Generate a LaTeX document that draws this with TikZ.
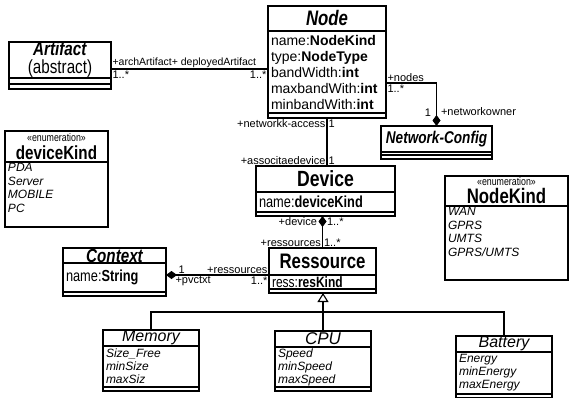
\documentclass[tikz,border=0pt]{standalone}
\usepackage{fontspec}
\setmainfont{Liberation Sans}[FakeStretch=0.8]
\newfontfamily\lblfont{Liberation Sans}
\usetikzlibrary{arrows.meta,positioning}

\begin{document}
\begin{tikzpicture}[
  x=1pt, y=-1pt, line width=1.1pt,
  cls/.style={draw, rectangle, inner sep=0pt, outer sep=0pt},
  ttl/.style={cls, anchor=north west, align=center},
  cmp/.style={cls, below=0pt of #1},
  attr/.style={align=left, inner xsep=3pt},
  lbl/.style={font=\lblfont\fontsize{11}{11}\selectfont, inner sep=1pt},
  comp/.style={-{Diamond[length=11pt,width=8pt]}},
  gen/.style={-{Triangle[length=9pt,width=11pt,fill=white]}}
]
\useasboundingbox (0,0) rectangle (569,398);

% Node
\node[ttl, minimum width=118pt, minimum height=25pt, font=\fontsize{21}{21}\selectfont\bfseries\itshape] (ntl) at (268,6) {Node};
\node[cmp=ntl, minimum width=118pt, minimum height=82pt, attr, text width=112pt, font=\lblfont\fontsize{14}{16}\selectfont] (nattr) {name:\textbf{NodeKind}\\ type:\textbf{NodeType}\\ bandWidth:\textbf{int}\\ maxbandWith:\textbf{int}\\ minbandWith:\textbf{int}};
\node[cmp=nattr, minimum width=118pt, minimum height=5pt] (nops) {};

% Artifact
\node[ttl, minimum width=102pt, minimum height=36pt, font=\fontsize{19}{18}\selectfont] (atl) at (9,42) {\textbf{\textit{Artifact}}\\(abstract)};
\node[cmp=atl, minimum width=102pt, minimum height=6pt] (aattr) {};
\node[cmp=aattr, minimum width=102pt, minimum height=5pt] (aops) {};

% deviceKind
\node[ttl, minimum width=103pt, minimum height=31pt, font=\fontsize{19}{18}\selectfont] (dktl) at (5,131) {{\fontsize{11}{11}\selectfont <<enumeration>>}\\ \textbf{deviceKind}};
\node[cmp=dktl, minimum width=103pt, inner xsep=3pt, inner ysep=1.5pt, font=\lblfont\fontsize{12}{13.5}\selectfont\itshape] (dkitems) {\parbox[t][62pt][t]{97pt}{PDA\\Server\\MOBILE\\PC}};

% Network-Config
\node[ttl, minimum width=111pt, minimum height=26pt, font=\fontsize{17}{17}\selectfont\bfseries\itshape] (nctl) at (381,126) {Network-Config};
\node[cmp=nctl, minimum width=111pt, minimum height=3pt] (ncattr) {};
\node[cmp=ncattr, minimum width=111pt, minimum height=4pt] (ncops) {};

% Device
\node[ttl, minimum width=139pt, minimum height=26pt, font=\fontsize{22}{22}\selectfont\bfseries] (dtl) at (256,166) {Device};
\node[cmp=dtl, minimum width=139pt, minimum height=20pt, attr, text width=133pt, font=\fontsize{16}{16}\selectfont] (dattr) {name:\textbf{deviceKind}};
\node[cmp=dattr, minimum width=139pt, minimum height=4pt] (dops) {};

% NodeKind
\node[ttl, minimum width=123pt, minimum height=30pt, font=\fontsize{21}{18}\selectfont] (nktl) at (445,176) {{\fontsize{11}{11}\selectfont <<enumeration>>}\\ \textbf{NodeKind}};
\node[cmp=nktl, minimum width=123pt, inner xsep=3pt, inner ysep=1.5pt, font=\lblfont\fontsize{12}{13.5}\selectfont\itshape] (nkitems) {\parbox[t][71pt][t]{117pt}{WAN\\GPRS\\UMTS\\GPRS/UMTS}};

% Context
\node[ttl, minimum width=103pt, minimum height=15pt, font=\fontsize{19}{19}\selectfont\bfseries\itshape] (ctl) at (63,248) {Context};
\node[cmp=ctl, minimum width=103pt, minimum height=29pt, attr, text width=97pt, font=\fontsize{16}{16}\selectfont] (cattr) {name:\textbf{String}};
\node[cmp=cattr, minimum width=103pt, minimum height=4pt] (cops) {};

% Ressource
\node[ttl, minimum width=107pt, minimum height=27pt, font=\fontsize{21}{21}\selectfont\bfseries] (rtl) at (269,248) {Ressource};
\node[cmp=rtl, minimum width=107pt, minimum height=14pt, attr, text width=101pt, font=\fontsize{15}{15}\selectfont] (rattr) {ress:\textbf{resKind}};
\node[cmp=rattr, minimum width=107pt, minimum height=4pt] (rops) {};

% Memory, CPU, Battery
\node[ttl, minimum width=96pt, minimum height=16pt, font=\lblfont\fontsize{16}{16}\selectfont\itshape] (mtl) at (103,330) {Memory};
\node[cmp=mtl, minimum width=96pt, minimum height=41pt, attr, text width=90pt, font=\lblfont\fontsize{12}{13}\selectfont\itshape] (mattr) {Size\_Free\\minSize\\maxSiz};
\node[cmp=mattr, minimum width=96pt, minimum height=4pt] (mops) {};

\node[ttl, minimum width=96pt, minimum height=16pt, font=\lblfont\fontsize{17}{16}\selectfont\itshape] (cputl) at (275,331) {CPU};
\node[cmp=cputl, minimum width=96pt, minimum height=40pt, attr, text width=90pt, font=\lblfont\fontsize{12}{13}\selectfont\itshape] (cpuattr) {Speed\\minSpeed\\maxSpeed};
\node[cmp=cpuattr, minimum width=96pt, minimum height=4pt] (cpuops) {};

\node[ttl, minimum width=96pt, minimum height=16pt, font=\lblfont\fontsize{16}{16}\selectfont\itshape] (btl) at (456,336) {Battery};
\node[cmp=btl, minimum width=96pt, minimum height=42pt, attr, text width=90pt, font=\lblfont\fontsize{12}{13}\selectfont\itshape] (battr) {Energy\\minEnergy\\maxEnergy};
\node[cmp=battr, minimum width=96pt, minimum height=4pt] (bops) {};

% associations
\coordinate (a1) at ([yshift=-9pt]atl.east);
\draw (a1) node[lbl, anchor=south west, font=\lblfont\fontsize{10.5}{10.5}\selectfont] {+archArtifact+ deployedArtifact} node[lbl, anchor=north west] {1..*}
  -- (a1 -| nattr.west) node[lbl, anchor=north east] {1..*};

\coordinate (n1) at ([yshift=-11pt]nattr.east);
\draw[comp] (n1) node[lbl, anchor=south west] {+nodes} node[lbl, anchor=north west] {1..*}
  -| (nctl.north) node[lbl, anchor=south east, xshift=-4pt, yshift=8pt] {1}
  node[lbl, anchor=south west, xshift=3pt, yshift=9pt] {+networkowner};

\draw (nops.south) node[lbl, anchor=north east] {+networkk-access} node[lbl, anchor=north west] {1}
  -- (nops.south |- dtl.north) node[lbl, anchor=south east] {+associtaedevice} node[lbl, anchor=south west] {1};

\draw[comp] (rtl.north) node[lbl, anchor=south east] {+ressources} node[lbl, anchor=south west] {1..*}
  -- (rtl.north |- dops.south) node[lbl, anchor=north east, xshift=-4pt] {+device}
  node[lbl, anchor=north west, xshift=3pt] {1..*};

\draw[comp] (rtl.south west) node[lbl, anchor=south east] {+ressources} node[lbl, anchor=north east] {1..*}
  -- (rtl.south west -| cattr.east) node[lbl, anchor=south west, xshift=11pt] {1}
  node[lbl, anchor=north west, xshift=8pt] {+pvctxt};

% generalization
\draw[gen] (cputl.north) -- (cputl.north |- rops.south);
\draw (mtl.north) |- ([yshift=-19pt]rops.south) -| (btl.north);

\end{tikzpicture}
\end{document}
